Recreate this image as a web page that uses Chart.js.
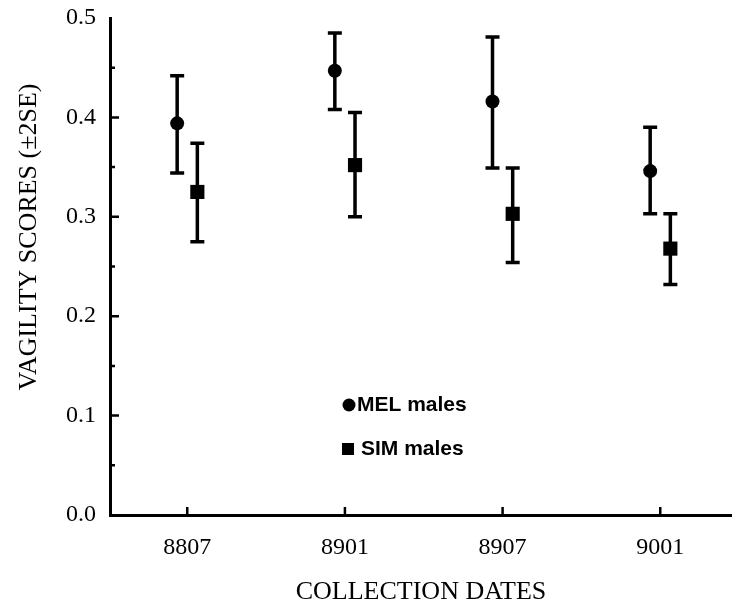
<!DOCTYPE html>
<html>
<head>
<meta charset="utf-8">
<script src="https://cdn.jsdelivr.net/npm/chart.js@4.4.1/dist/chart.umd.min.js"></script>
<style>
  html, body { margin: 0; padding: 0; background: #fff; }
  #wrap { width: 732px; height: 610px; }
</style>
</head>
<body>
<div id="wrap"><canvas id="vagChart" width="732" height="610"></canvas></div>
<script>
// collection dates (x categories)
const dates = ['8807', '8901', '8907', '9001'];

// MEL males: mean and +/-2SE limits
const melMean = [0.394, 0.447, 0.416, 0.346];
const melLow  = [0.344, 0.408, 0.349, 0.303];
const melHigh = [0.442, 0.485, 0.481, 0.390];

// SIM males: mean and +/-2SE limits
const simMean = [0.325, 0.352, 0.303, 0.268];
const simLow  = [0.275, 0.300, 0.254, 0.232];
const simHigh = [0.374, 0.405, 0.349, 0.303];

const yTicks = [0, 0.1, 0.2, 0.3, 0.4, 0.5];

const yTitle = 'VAGILITY SCORES (±2SE)';
const xTitle = 'COLLECTION DATES';

const serif = "'Liberation Serif', 'Times New Roman', serif";
const sans = "'Liberation Sans', Arial, sans-serif";

// side-by-side shift of the two groups inside a date
const shift = 0.064;

function pts(mean, lo, hi, dx) {
  return mean.map((v, i) => ({ x: i + dx, y: v, lo: lo[i], hi: hi[i] }));
}

// error bars with caps
const errorBars = {
  id: 'errorBars',
  beforeDatasetsDraw(chart) {
    const ctx = chart.ctx;
    const ys = chart.scales.y;
    ctx.save();
    ctx.strokeStyle = '#000';
    ctx.lineWidth = 3.5;
    chart.data.datasets.forEach((ds, di) => {
      const meta = chart.getDatasetMeta(di);
      meta.data.forEach((pt, j) => {
        const x = pt.x;
        const yl = ys.getPixelForValue(ds.data[j].lo);
        const yh = ys.getPixelForValue(ds.data[j].hi);
        ctx.beginPath();
        ctx.moveTo(x, yl); ctx.lineTo(x, yh);
        ctx.moveTo(x - 7, yl); ctx.lineTo(x + 7, yl);
        ctx.moveTo(x - 7, yh); ctx.lineTo(x + 7, yh);
        ctx.stroke();
      });
    });
    ctx.restore();
  }
};

// ticks pointing into the plot, with minor ticks on y
const innerTicks = {
  id: 'innerTicks',
  afterDraw(chart) {
    const ctx = chart.ctx;
    const xs = chart.scales.x, ys = chart.scales.y;
    const area = chart.chartArea;
    ctx.save();
    ctx.strokeStyle = '#000';
    ctx.lineWidth = 2.5;
    ctx.beginPath();
    for (let k = 1; k <= 9; k++) {
      const v = k * 0.05;
      const py = ys.getPixelForValue(v);
      const len = k % 2 === 0 ? 9 : 5;
      ctx.moveTo(area.left, py); ctx.lineTo(area.left + len, py);
    }
    dates.forEach((d, i) => {
      const px = xs.getPixelForValue(i);
      ctx.moveTo(px, area.bottom); ctx.lineTo(px, area.bottom - 8);
    });
    ctx.stroke();
    ctx.restore();
  }
};

// y axis title, sits a bit above the middle of the axis in the original
const yAxisTitle = {
  id: 'yAxisTitle',
  afterDraw(chart) {
    const ctx = chart.ctx;
    ctx.save();
    ctx.translate(29, 237);
    ctx.rotate(-Math.PI / 2);
    ctx.fillStyle = '#000';
    ctx.font = '26px ' + serif;
    ctx.textAlign = 'center';
    ctx.textBaseline = 'middle';
    ctx.fillText(yTitle, 0, 0);
    ctx.restore();
  }
};

// legend inside the plot
const innerLegend = {
  id: 'innerLegend',
  afterDraw(chart) {
    const ctx = chart.ctx;
    ctx.save();
    ctx.fillStyle = '#000';
    ctx.font = 'bold 21px ' + sans;
    ctx.textBaseline = 'middle';
    const rows = [[349, 405, 357], [348, 449, 361]];
    chart.data.datasets.forEach((ds, i) => {
      const [cx, cy, tx] = rows[i];
      ctx.beginPath();
      if (ds.pointStyle === 'circle') {
        ctx.arc(cx, cy, 6.5, 0, Math.PI * 2);
      } else {
        ctx.rect(cx - 6, cy - 6, 12, 12);
      }
      ctx.fill();
      ctx.fillText(ds.label, tx, cy);
    });
    ctx.restore();
  }
};

new Chart(document.getElementById('vagChart'), {
  type: 'scatter',
  data: {
    datasets: [
      {
        label: 'MEL males',
        data: pts(melMean, melLow, melHigh, -shift),
        pointStyle: 'circle',
        pointRadius: 7,
        pointHoverRadius: 7,
        backgroundColor: '#000',
        borderColor: '#000',
        borderWidth: 0
      },
      {
        label: 'SIM males',
        data: pts(simMean, simLow, simHigh, shift),
        pointStyle: 'rect',
        pointRadius: 10,
        pointHoverRadius: 10,
        backgroundColor: '#000',
        borderColor: '#000',
        borderWidth: 0
      }
    ]
  },
  options: {
    responsive: false,
    animation: false,
    devicePixelRatio: 1,
    layout: { autoPadding: false, padding: { top: 18, right: 0, bottom: 0, left: 0 } },
    plugins: {
      legend: { display: false },
      tooltip: { enabled: false }
    },
    scales: {
      x: {
        type: 'linear',
        min: -0.49,
        max: 3.455,
        afterBuildTicks(scale) {
          scale.ticks = dates.map((d, i) => ({ value: i }));
        },
        afterFit(scale) {
          scale.height = 95;
          scale.paddingLeft = 0;
          scale.paddingRight = 0;
        },
        grid: { display: false, drawTicks: false },
        border: { display: true, color: '#000', width: 3 },
        ticks: {
          padding: 18,
          color: '#000',
          font: { family: serif, size: 24 },
          callback: (v) => dates[v]
        },
        title: {
          display: true,
          text: xTitle,
          color: '#000',
          font: { family: serif, size: 26 },
          padding: { top: 0, bottom: 2 }
        }
      },
      y: {
        min: 0,
        max: 0.5,
        afterBuildTicks(scale) {
          scale.ticks = yTicks.map(v => ({ value: v }));
        },
        afterFit(scale) {
          scale.width = 110;
          scale.paddingTop = 0;
          scale.paddingBottom = 0;
        },
        grid: { display: false, drawTicks: false },
        border: { display: true, color: '#000', width: 3 },
        ticks: {
          padding: 14,
          color: '#000',
          font: { family: serif, size: 24 },
          callback: (v) => v.toFixed(1)
        }
      }
    }
  },
  plugins: [errorBars, innerTicks, yAxisTitle, innerLegend]
});
</script>
</body>
</html>
